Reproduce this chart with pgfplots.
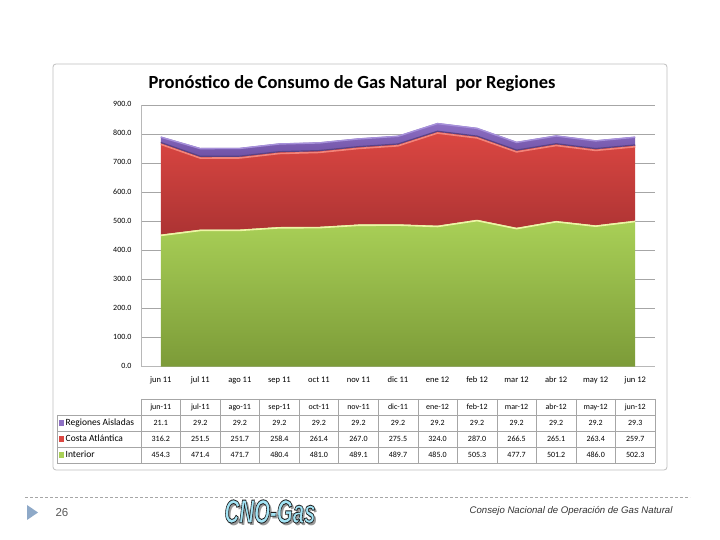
\documentclass[border=0pt]{standalone}
\usepackage{pgfplots}
\pgfplotsset{compat=1.18}
\usepackage{pgfplotstable}
\usepackage{fontspec}
\setmainfont{Carlito}
\newfontfamily\arial{Liberation Sans}

\pgfkeys{/pgf/number format/assume math mode=true}

\definecolor{verdeA}{HTML}{A9D057}
\definecolor{verdeB}{HTML}{7C9B38}
\definecolor{verdeBorde}{HTML}{EEF5A6}
\definecolor{rojoA}{HTML}{DC4742}
\definecolor{rojoB}{HTML}{AC3333}
\definecolor{rojoBorde}{HTML}{F38479}
\definecolor{moradoA}{HTML}{8E70C4}
\definecolor{moradoB}{HTML}{6F52A6}
\definecolor{moradoBorde}{HTML}{A690DA}
\definecolor{marco}{HTML}{BFBFBF}
\definecolor{rejilla}{HTML}{A6A6A6}
\definecolor{logo}{HTML}{A3E4F5}
\definecolor{flecha}{HTML}{8EA9C8}

% Pronóstico mensual (jun-11 a jun-12)
\pgfplotstableread{
i int costa aisl
0  454.3 316.2 21.1
1  471.4 251.5 29.2
2  471.7 251.7 29.2
3  480.4 258.4 29.2
4  481.0 261.4 29.2
5  489.1 267.0 29.2
6  489.7 275.5 29.2
7  485.0 324.0 29.2
8  505.3 287.0 29.2
9  477.7 266.5 29.2
10 501.2 265.1 29.2
11 486.0 263.4 29.2
12 502.3 259.7 29.3
}\datos

\newcommand{\tabfont}{\fontsize{8}{9}\selectfont}
\tikzset{celda/.style={font=\tabfont, anchor=base, inner sep=0pt}}

\begin{document}
\begin{tikzpicture}[x=1pt,y=1pt]
\useasboundingbox (0,0) rectangle (720,540);
\fill[white] (0,0) rectangle (720,540);

% marco del gráfico
\draw[marco, line width=0.8pt, rounded corners=3pt] (53,476) rectangle (667,70);

% título
\node[font=\fontsize{18.5}{21}\selectfont\bfseries] at (352,456)
  {Pronóstico de Consumo de Gas Natural\ \ por Regiones};

\begin{axis}[
  at={(141pt,173.3pt)}, anchor=south west,
  scale only axis, width=514pt, height=261.7pt,
  xmin=-0.5, xmax=12.5, ymin=0, ymax=900,
  ytick={0,100,...,900},
  xtick={0,...,12},
  xticklabels={jun 11,jul 11,ago 11,sep 11,oct 11,nov 11,dic 11,ene 12,feb 12,mar 12,abr 12,may 12,jun 12},
  typeset ticklabels with strut,
  axis x line*=bottom, axis y line*=left,
  axis line style={draw=rejilla!80, -},
  major tick length=0pt,
  ymajorgrids, grid style={draw=rejilla, line width=0.5pt},
  yticklabel style={font=\fontsize{8}{9}\selectfont, xshift=-6pt,
    /pgf/number format/.cd, fixed, fixed zerofill, precision=1},
  xticklabel style={font=\fontsize{8.5}{9}\selectfont, yshift=-6pt},
]
\addplot[stack plots=y, draw=none, top color=verdeA, bottom color=verdeB]
  table[x=i, y=int]{\datos} \closedcycle;
\addplot[stack plots=y, draw=none, top color=rojoA, bottom color=rojoB]
  table[x=i, y=costa]{\datos} \closedcycle;
\addplot[stack plots=y, draw=none, top color=moradoA, bottom color=moradoB]
  table[x=i, y=aisl]{\datos} \closedcycle;

% bordes claros de cada serie
\addplot[stack plots=false, line width=1.6pt, verdeBorde, yshift=-0.8pt]
  table[x=i, y=int]{\datos};
\addplot[stack plots=false, line width=1.6pt, rojoBorde, yshift=-1.6pt]
  table[x=i, y expr=\thisrow{int}+\thisrow{costa}]{\datos};
\addplot[stack plots=false, line width=1.2pt, moradoB!80!black, yshift=0.2pt]
  table[x=i, y expr=\thisrow{int}+\thisrow{costa}]{\datos};
\addplot[stack plots=false, line width=1.4pt, moradoBorde, yshift=-0.6pt]
  table[x=i, y expr=\thisrow{int}+\thisrow{costa}+\thisrow{aisl}]{\datos};
\end{axis}

% tabla de datos
\begin{scope}[rejilla, line width=0.5pt]
  \draw (141,141) -- (655,141);
  \foreach \yy in {125,109,93,77} \draw (57,\yy) -- (655,\yy);
  \draw (57,125) -- (57,77);
  \foreach \j in {0,...,13} \draw ({141+39.538*\j},141) -- ({141+39.538*\j},77);
\end{scope}

\foreach \m [count=\k from 0] in {jun-11,jul-11,ago-11,sep-11,oct-11,nov-11,dic-11,ene-12,feb-12,mar-12,abr-12,may-12,jun-12}
  \node[celda] at ({160.77+39.538*\k},130.5) {\m};

\foreach \k in {0,...,12}{
  \pgfplotstablegetelem{\k}{aisl}\of\datos \let\va\pgfplotsretval
  \pgfplotstablegetelem{\k}{costa}\of\datos \let\vb\pgfplotsretval
  \pgfplotstablegetelem{\k}{int}\of\datos \let\vc\pgfplotsretval
  \node[celda] at ({160.77+39.538*\k},114.3)
    {\pgfmathprintnumber[fixed,fixed zerofill,precision=1]{\va}};
  \node[celda] at ({160.77+39.538*\k},98.3)
    {\pgfmathprintnumber[fixed,fixed zerofill,precision=1]{\vb}};
  \node[celda] at ({160.77+39.538*\k},82.3)
    {\pgfmathprintnumber[fixed,fixed zerofill,precision=1]{\vc}};
}

\fill[moradoA] (58.5,114) rectangle +(5.5,5.5);
\fill[rojoA]   (58.5,98)  rectangle +(5.5,5.5);
\fill[verdeA]  (58.5,82)  rectangle +(5.5,5.5);
\begin{scope}[every node/.style={font=\fontsize{9.5}{10}\selectfont, anchor=base west, inner sep=0pt}]
\node at (65.5,114) {Regiones Aisladas};
\node at (65.5,98)  {Costa Atlántica};
\node at (65.5,82)  {Interior};
\end{scope}

% pie de página
\draw[rejilla, line width=0.6pt, dash pattern=on 3pt off 2pt] (25,43) -- (690,43);
\fill[flecha] (27,35) -- (27,20) -- (38,27.5) -- cycle;
\node[font=\arial\fontsize{11.5}{12}\selectfont, text=black!65, anchor=west] at (52,27) {26};
\node[font=\arial\itshape\fontsize{9.6}{11}\selectfont, text=black!80, anchor=east] at (676,29)
  {Consejo Nacional de Operación de Gas Natural};

% logotipo: relleno celeste con contorno oscuro y sombra gris
\newcommand{\logotxt}[1]{\scalebox{0.62}[1]{\arial\bfseries\itshape\fontsize{33}{34}\selectfont #1}}
\node[text=black!40] at (272,26.3) {\logotxt{CNO-Gas}};
\node[text=logo] at (270,28.5)
  {\logotxt{\special{pdf:literal direct 2 Tr 0.9 w 0.12 0.12 0.12 RG}CNO-Gas\special{pdf:literal direct 0 Tr}}};
\end{tikzpicture}
\end{document}
